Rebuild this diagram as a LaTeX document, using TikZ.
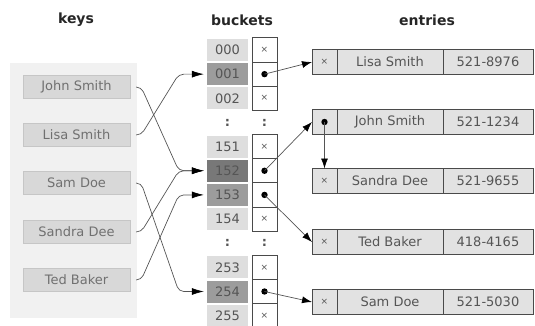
\documentclass[tikz,border=0pt]{standalone}
\usepackage{fontspec}
\setmainfont{DejaVu Sans}
\usetikzlibrary{positioning, arrows.meta}

\definecolor{panelfill}{HTML}{F1F1F1}
\definecolor{keyfill}{HTML}{D8D8D8}
\definecolor{keyline}{HTML}{C6C6C6}
\definecolor{numfill}{HTML}{DEDEDE}
\definecolor{hitfill}{HTML}{9C9C9C}
\definecolor{hitdark}{HTML}{787878}
\definecolor{cellfill}{HTML}{E2E2E2}
\definecolor{cellline}{HTML}{4A4A4A}
\definecolor{linegray}{HTML}{555555}
\definecolor{txtgray}{HTML}{555555}
\definecolor{keytxt}{HTML}{707070}

\newcommand{\nullmark}{{\fontsize{9}{9}\selectfont ×}}

\begin{document}
\begin{tikzpicture}[
    x=1pt, y=-1pt,
    every node/.style={align=center, font=\fontsize{13}{15}\selectfont, text=txtgray},
    header/.style={font=\fontsize{14}{16}\selectfont\bfseries, text=black!85},
    keybox/.style={draw=keyline, fill=keyfill, text=keytxt, minimum width=107pt, minimum height=23pt, inner sep=0pt},
    numcell/.style={fill=numfill, minimum width=41pt, minimum height=22pt, inner sep=0pt},
    hitcell/.style={numcell, fill=hitfill},
    collide/.style={numcell, fill=hitdark},
    ptrcell/.style={draw=cellline, line width=0.9pt, fill=white, minimum width=25pt, minimum height=24.15pt, inner sep=0pt, outer sep=0pt},
    eptr/.style={draw=cellline, line width=0.9pt, fill=cellfill, minimum width=25pt, minimum height=25pt, inner sep=0pt, outer sep=0pt},
    ename/.style={eptr, minimum width=106pt},
    enum/.style={eptr, minimum width=90pt},
    keyarrow/.style={draw=linegray, line width=0.7pt, rounded corners=5pt, -{Latex[color=black, length=12pt, width=7pt]}},
    ptrarrow/.style={draw=linegray, line width=0.7pt, -{Latex[color=black, length=10pt, width=7pt]}},
]
\useasboundingbox (0,0) rectangle (535,326);

% Headers
\node[header] (hkeys) at (76,20) {keys};
\node[header] (hbuckets) at (242,20) {buckets};
\node[header] (hentries) at (427,20) {entries};

% Keys
\fill[panelfill] (10,63) rectangle (137,318);
\foreach \nm/\who/\y in {John/John Smith/87, Lisa/Lisa Smith/135, Sam/Sam Doe/183, Sandra/Sandra Dee/232, Ted/Ted Baker/280}
    \node[keybox] (key\nm) at (76.5,\y) {\who};

% Buckets
\foreach \lbl/\i in {000/0, 002/2, 151/4, 154/7, 253/9, 255/11} {
    \node[numcell] (num\i) at (227.5,{50+24.15*\i}) {\lbl};
    \node[ptrcell] (ptr\i) at (264.5,{50+24.15*\i}) {\nullmark};
}
\foreach \lbl/\i in {001/1, 153/6, 254/10} {
    \node[hitcell] (num\i) at (227.5,{50+24.15*\i}) {\lbl};
    \node[ptrcell] (ptr\i) at (264.5,{50+24.15*\i}) {};
}
\node[collide] (num5) at (227.5,{50+24.15*5}) {152};
\node[ptrcell] (ptr5) at (264.5,{50+24.15*5}) {};
\foreach \i in {3, 8} {
    \node (gap\i) at (227.5,{50+24.15*\i}) {\textbf{:}};
    \node (pgap\i) at (264.5,{50+24.15*\i}) {\textbf{:}};
}

% Entries
\foreach \nm/\who/\tel/\y/\mk in {Lisa/Lisa Smith/521-8976/62/\nullmark, John/John Smith/521-1234/122/,
        Sandra/Sandra Dee/521-9655/181/\nullmark, Ted/Ted Baker/418-4165/242/\nullmark, Sam/Sam Doe/521-5030/302/\nullmark} {
    \node[eptr] (ptr\nm) at (324.5,\y) {\mk};
    \node[ename, right=0pt of ptr\nm] (name\nm) {\who};
    \node[enum, right=0pt of name\nm] (tel\nm) {\tel};
}

% Pointer dots
\foreach \p in {ptr1, ptr5, ptr6, ptr10, ptrJohn}
    \fill[black] (\p) circle (3.2pt);

% Keys to buckets
\draw[keyarrow] ([xshift=6pt]keyJohn.east) -- ++(5,0) -- ([xshift=-28pt]num5.west) -- ([xshift=-3pt]num5.west);
\draw[keyarrow] ([xshift=6pt]keyLisa.east) -- ++(5,0) -- ([xshift=-28pt]num1.west) -- ([xshift=-3pt]num1.west);
\draw[keyarrow] ([xshift=6pt]keySam.east) -- ++(5,0) -- ([xshift=-28pt]num10.west) -- ([xshift=-3pt]num10.west);
\draw[keyarrow] ([xshift=6pt]keySandra.east) -- ++(5,0) -- ([xshift=-28pt]num5.west) -- ([xshift=-3pt]num5.west);
\draw[keyarrow] ([xshift=6pt]keyTed.east) -- ++(5,0) -- ([xshift=-28pt]num6.west) -- ([xshift=-3pt]num6.west);

% Buckets to entries
\draw[ptrarrow] (ptr1.center) -- (ptrLisa.west);
\draw[ptrarrow] (ptr5.center) -- (ptrJohn.west);
\draw[ptrarrow] (ptr6.center) -- (ptrTed.west);
\draw[ptrarrow] (ptr10.center) -- (ptrSam.west);
\draw[ptrarrow] (ptrJohn.center) -- (ptrSandra.north);
\end{tikzpicture}
\end{document}
